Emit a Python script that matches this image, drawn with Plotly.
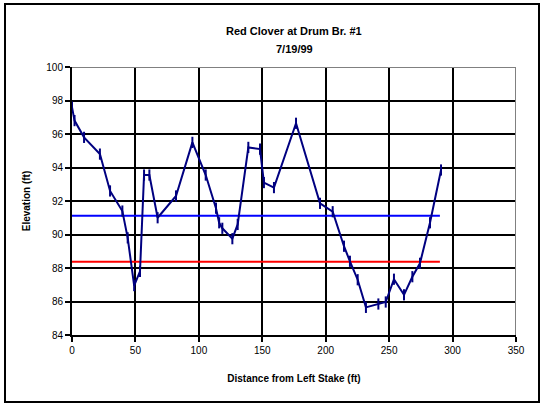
import plotly.graph_objects as go

distance = [0, 2, 9.5, 22, 30, 39.7, 43.9, 49, 53.6, 56.8, 61, 67.5, 82, 94.9, 105.4,
            113.5, 116, 118.5, 126.4, 130.6, 139, 148.2, 151.3, 159.2, 176.6, 195.5,
            205.5, 214.4, 219.1, 225.2, 231.7, 241.5, 247.3, 253.8, 261.7, 268.3,
            274.3, 282.2, 290.9]
elevation = [97.6, 96.8, 95.8, 94.8, 92.6, 91.4, 89.8, 86.95, 87.8, 93.55, 93.55, 91.0,
             92.3, 95.5, 93.55, 91.57, 90.7, 90.37, 89.75, 90.6, 95.2, 95.1, 93.1, 92.8,
             96.64, 91.86, 91.36, 89.3, 88.4, 87.3, 85.65, 85.85, 85.97, 87.33, 86.4,
             87.48, 88.28, 90.7, 93.85]

blue_level_x = [0, 290]
blue_level_y = [91.12, 91.12]
red_level_x = [0, 290]
red_level_y = [88.38, 88.38]

x_ticks = [0, 50, 100, 150, 200, 250, 300, 350]
y_ticks = [84, 86, 88, 90, 92, 94, 96, 98, 100]

title_text = "Red Clover at Drum Br. #1"
subtitle_text = "7/19/99"

FONT = "Liberation Sans, Arial, sans-serif"

fig = go.Figure()
fig.add_trace(go.Scatter(x=blue_level_x, y=blue_level_y, mode="lines",
                         line=dict(color="#0000FF", width=2), showlegend=False))
fig.add_trace(go.Scatter(x=red_level_x, y=red_level_y, mode="lines",
                         line=dict(color="#FF0000", width=2), showlegend=False))
fig.add_trace(go.Scatter(x=distance, y=elevation, mode="lines+markers",
                         line=dict(color="#000080", width=2),
                         marker=dict(symbol="line-ns", size=8,
                                     line=dict(color="#000080", width=2)),
                         showlegend=False))

L, R, T, B = 72, 28, 67, 71
W, H = 544, 406
pw = W - L - R
ph = H - T - B

fig.update_layout(
    width=W, height=H,
    margin=dict(l=L, r=R, t=T, b=B, autoexpand=False),
    paper_bgcolor="white", plot_bgcolor="white",
    font=dict(family=FONT, size=10, color="black"),
    xaxis=dict(range=[0, 350], tickvals=x_ticks, showgrid=True, gridcolor="black",
               gridwidth=2, showline=True, linecolor="black", linewidth=2,
               ticks="outside", ticklen=5, tickwidth=2, tickcolor="black",
               zeroline=False, automargin=False,
               title=dict(text="<b>Distance from Left Stake (ft)</b>",
                          font=dict(family=FONT, size=10), standoff=20)),
    yaxis=dict(range=[84, 100], tickvals=y_ticks, showgrid=True, gridcolor="black",
               gridwidth=2, showline=True, linecolor="black", linewidth=2,
               ticks="outside", ticklen=5, tickwidth=2, tickcolor="black",
               zeroline=False, automargin=False,
               title=dict(text="<b>Elevation (ft)</b>",
                          font=dict(family=FONT, size=10), standoff=14)),
    annotations=[
        dict(text="<b>" + title_text + "</b>", xref="paper", yref="paper",
             x=0.5, y=1 + (T - 31) / ph, xanchor="center", yanchor="middle",
             showarrow=False, font=dict(family=FONT, size=11)),
        dict(text="<b>" + subtitle_text + "</b>", xref="paper", yref="paper",
             x=0.5, y=1 + (T - 49) / ph, xanchor="center", yanchor="middle",
             showarrow=False, font=dict(family=FONT, size=11)),
    ],
    shapes=[
        dict(type="line", xref="x", yref="y", x0=0, x1=350, y0=100, y1=100,
             line=dict(color="#808080", width=2)),
        dict(type="line", xref="x", yref="y", x0=350, x1=350, y0=84, y1=100,
             line=dict(color="#808080", width=2)),
        dict(type="rect", xref="paper", yref="paper",
             x0=(5 - L) / pw, x1=(539 - L) / pw,
             y0=-(B - 4) / ph, y1=1 + (T - 4) / ph,
             line=dict(color="black", width=2)),
    ],
)

fig.write_html("out.html", config={"displayModeBar": False},
               post_script="document.body.style.margin='0';document.body.style.overflow='hidden';")
